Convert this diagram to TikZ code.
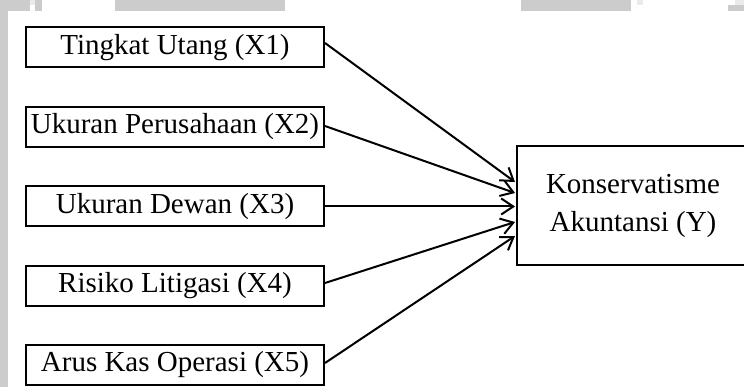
\documentclass[tikz,border=0pt]{standalone}
\usepackage{fontspec}
\setmainfont{Liberation Serif}
\usetikzlibrary{arrows.meta}
\begin{document}
\begin{tikzpicture}[x=1pt,y=-1pt,
  varbox/.style={draw=black,line width=2pt,minimum width=298pt,minimum height=40pt,inner sep=0pt,
    font=\fontsize{29}{38}\selectfont},
  ybox/.style={draw=black,line width=2pt,minimum width=232pt,minimum height=119pt,inner sep=0pt,
    align=center,font=\fontsize{29}{38}\selectfont},
  arr/.style={line width=2pt,-{Straight Barb[length=12pt,width=16pt,line width=2pt]}},
  band/.style={fill=black!20,draw=none}]
\useasboundingbox (0,0) rectangle (744,387);
% gray margin remnants
\fill[band] (0,0) rectangle (8,387);
\fill[band] (0,0) rectangle (30,11);
\fill[band] (35,0) rectangle (42,11);
\fill[black!8] (30,0) rectangle (35,5);
\fill[band] (115,0) rectangle (285,11);
\fill[band] (521,0) rectangle (631,11);
\fill[black!8] (637,0) rectangle (643,5);
\fill[band] (728,5) rectangle (744,11);
\fill[black!8] (735,0) rectangle (744,5);
% nodes
\node[varbox] (x1) at (175,47.5) {Tingkat Utang (X1)};
\node[varbox] (x2) at (175,127) {Ukuran Perusahaan (X2)};
\node[varbox] (x3) at (175,206.5) {Ukuran Dewan (X3)};
\node[varbox] (x4) at (175,286) {Risiko Litigasi (X4)};
\node[varbox] (x5) at (175,364.5) {Arus Kas Operasi (X5)};
\node[ybox] (y) at (633,205.5) {Konservatisme\\Akuntansi (Y)};
% connectors
\draw[arr] ([yshift=4.5pt]x1.east) -- ([xshift=-1pt,yshift=23.5pt]y.west);
\draw[arr] ([yshift=1pt]x2.east) -- ([xshift=-1pt,yshift=12.5pt]y.west);
\draw[arr] (x3.east) -- ([xshift=-1pt,yshift=-1pt]y.west);
\draw[arr] ([yshift=3pt]x4.east) -- ([xshift=-1pt,yshift=-16.5pt]y.west);
\draw[arr] ([yshift=1.5pt]x5.east) -- ([xshift=-1pt,yshift=-30.5pt]y.west);
\end{tikzpicture}
\end{document}
